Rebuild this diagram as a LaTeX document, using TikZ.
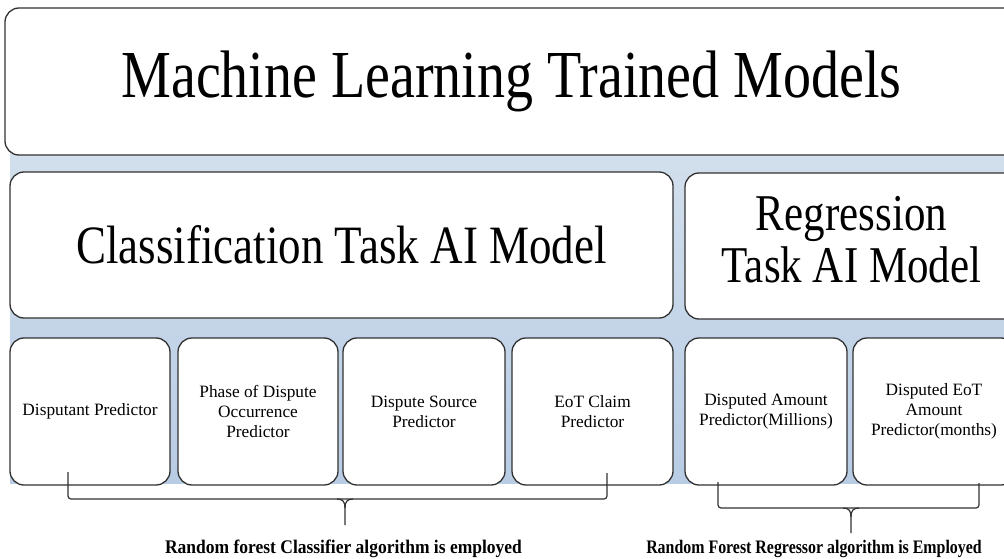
\documentclass[tikz,border=0pt]{standalone}
\usepackage{fontspec}
\setmainfont{Liberation Serif}
\definecolor{bandtop}{RGB}{214,226,238}
\definecolor{bandbot}{RGB}{184,204,228}
\definecolor{edge}{RGB}{50,50,50}
\tikzset{
 box/.style={draw=edge, line width=1.3pt, rounded corners=14pt, fill=white, inner sep=0pt, align=center, anchor=center},
 big/.style={minimum height=146pt},
 small/.style={minimum height=147pt, font=\fontsize{17.3}{20}\selectfont},
 brace/.style={draw=edge, line width=1.2pt, rounded corners=3pt},
 lab/.style={font=\bfseries, anchor=base, inner sep=0pt}
}
\newcommand{\vstretch}[1]{\scalebox{1}[1.2]{#1}}
\begin{document}
\begin{tikzpicture}[x=1pt,y=-1pt]
\useasboundingbox (0,0) rectangle (1004,559);
\fill[white] (0,0) rectangle (1004,559);
\shade[top color=bandtop,bottom color=bandbot] (10,100) rectangle (1030,483);
% top
\node[box, minimum width=1013pt, minimum height=147pt] (top) at (511.5,81.5)
  {\vstretch{\fontsize{56}{60}\selectfont Machine Learning Trained Models}};
% second row
\node[box, big, minimum width=663pt] (cls) at (341.5,245)
  {\vstretch{\fontsize{45}{43}\selectfont Classification Task AI Model}};
\node[box, big, minimum width=333pt] (reg) at (851.5,246)
  {\vstretch{\fontsize{43}{43}\selectfont\begin{tabular}{@{}c@{}}Regression\\Task AI Model\end{tabular}}};
% third row
\node[box, small, minimum width=160pt] (p1) at (90,411.5) {Disputant Predictor};
\node[box, small, minimum width=160pt] (p2) at (258,411.5) {Phase of Dispute\\Occurrence\\Predictor};
\node[box, small, minimum width=162pt] (p3) at (424,411.5) {Dispute Source\\Predictor};
\node[box, small, minimum width=161pt] (p4) at (592.5,411.5) {EoT Claim\\Predictor};
\node[box, small, minimum width=162pt] (p5) at (766,411.5) {Disputed Amount\\Predictor(Millions)};
\node[box, small, minimum width=162pt] (p6) at (934,411.5) {Disputed EoT\\Amount\\Predictor(months)};
% braces
\coordinate (la) at (68,472);
\coordinate (lb) at (607,473);
\coordinate (lt) at (345,525);
\draw[brace] (la) -- (68,499) -- (607,499) -- (lb);
\draw[edge, line width=1.2pt] (337,499) .. controls (343,499) and (345,502) .. (345,508) -- (lt);
\draw[edge, line width=1.2pt] (353,499) .. controls (347,499) and (345,502) .. (345,508);
\coordinate (ra) at (718,482);
\coordinate (rb) at (979,483);
\coordinate (rt) at (851,533);
\draw[brace] (ra) -- (718,508) -- (979,508) -- (rb);
\draw[edge, line width=1.2pt] (843,508) .. controls (849,508) and (851,511) .. (851,517) -- (rt);
\draw[edge, line width=1.2pt] (859,508) .. controls (853,508) and (851,511) .. (851,517);
% labels
\node[lab] (cl) at (343.5,553) {\scalebox{1}[1.1]{\fontsize{17.5}{20}\selectfont Random forest Classifier algorithm is employed}};
\node[lab] (rl) at (814,553) {\scalebox{1}[1.2]{\fontsize{15.9}{20}\selectfont Random Forest Regressor algorithm is Employed}};
\end{tikzpicture}
\end{document}
